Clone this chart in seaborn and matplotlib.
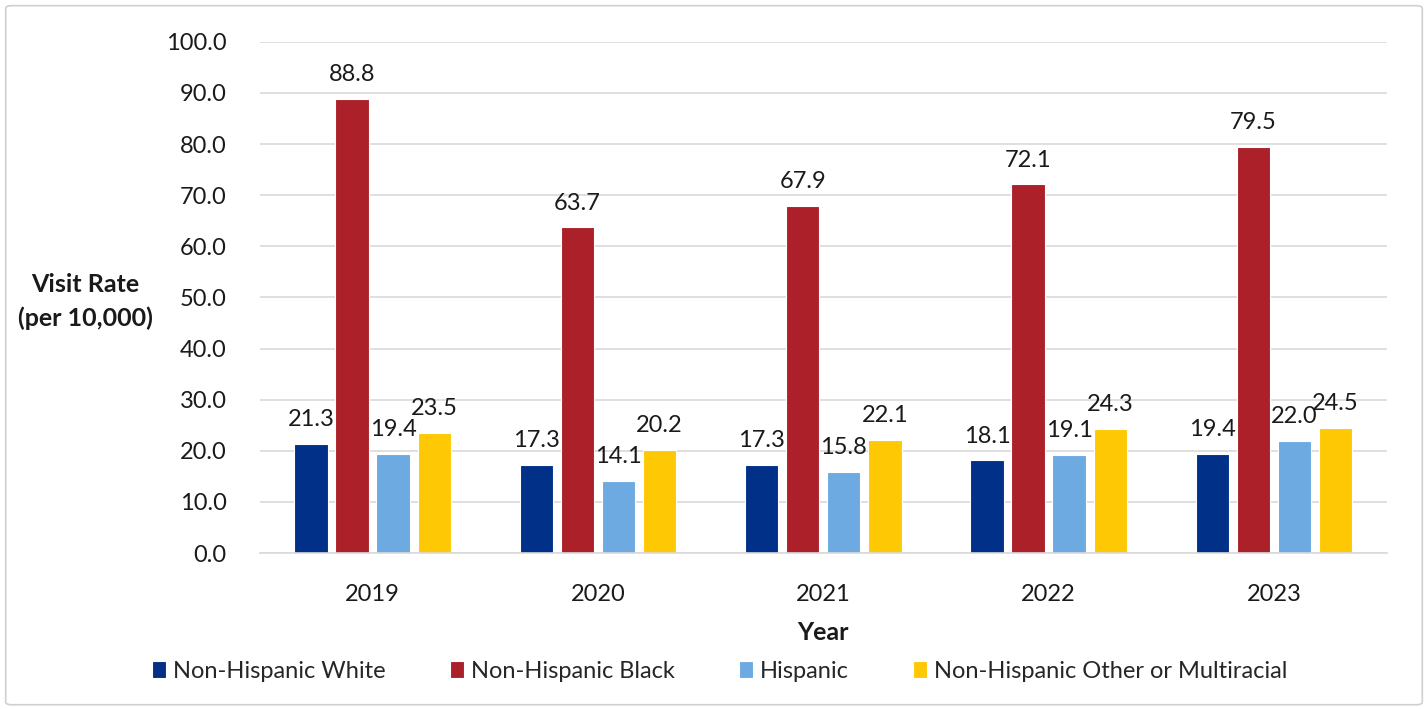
import pandas as pd
import matplotlib.pyplot as plt
import seaborn as sns
from matplotlib.patches import FancyBboxPatch

years = ["2019", "2020", "2021", "2022", "2023"]
groups = ["Non-Hispanic White", "Non-Hispanic Black", "Hispanic",
          "Non-Hispanic Other or Multiracial"]
white = [21.3, 17.3, 17.3, 18.1, 19.4]
black = [88.8, 63.7, 67.9, 72.1, 79.5]
hispanic = [19.4, 14.1, 15.8, 19.1, 22.0]
other = [23.5, 20.2, 22.1, 24.3, 24.5]
colors = ["#003087", "#AB2029", "#6DAAE2", "#FFC805"]

rows = []
for g, vals in zip(groups, [white, black, hispanic, other]):
    for y, v in zip(years, vals):
        rows.append({"Year": y, "Group": g, "Rate": v})
df = pd.DataFrame(rows)

sns.set_theme(style="white")
plt.rcParams['font.family'] = ['Lato', 'DejaVu Sans']

fig = plt.figure(figsize=(14.28, 7.09), dpi=100)
ax = fig.add_axes([0.182, 0.22, 0.789, 0.721])

sns.barplot(data=df, x="Year", y="Rate", hue="Group", palette=colors,
            saturation=1, width=0.73, gap=0.19, edgecolor="white",
            linewidth=0.8, ax=ax, legend=True)

for c in ax.containers:
    ax.bar_label(c, fmt="%.1f", padding=10, fontsize=17, color="#1a1a1a")

ax.set_ylim(0, 100)
ax.set_xlim(-0.5, 4.5)
ax.set_yticks(range(0, 101, 10))
ax.set_yticklabels([f"{v:.1f}" for v in range(0, 101, 10)])
ax.yaxis.grid(True, color="#d9d9d9", linewidth=1.2)
ax.set_axisbelow(True)
for s in ["top", "right", "left"]:
    ax.spines[s].set_visible(False)
ax.spines["bottom"].set_color("#d9d9d9")
ax.spines["bottom"].set_linewidth(1.2)
ax.tick_params(axis="both", length=0, labelsize=17, colors="#1a1a1a")
ax.tick_params(axis="x", pad=22)
ax.tick_params(axis="y", pad=24)

ax.set_xlabel("Year", fontsize=18, fontweight="bold", color="#1a1a1a", labelpad=12)
ax.set_ylabel("")
fig.text(0.06, 0.575, "Visit Rate\n(per 10,000)", ha="center", va="center",
         fontsize=18, fontweight="bold", color="#1a1a1a", linespacing=1.5)

handles, labels = ax.get_legend_handles_labels()
ax.get_legend().remove()
fig.legend(handles, labels, loc="center", bbox_to_anchor=(0.504, 0.053), ncol=4,
           frameon=False, fontsize=17, handlelength=0.6, handleheight=0.7,
           handletextpad=0.3, columnspacing=2.7)

fig.patches.append(FancyBboxPatch((0.004, 0.006), 0.992, 0.986,
                                  boxstyle="round,pad=0,rounding_size=0.004",
                                  transform=fig.transFigure, fill=False,
                                  edgecolor="#d0d0d0", linewidth=1.2))

fig.savefig("out.png", dpi=100, facecolor="white")
